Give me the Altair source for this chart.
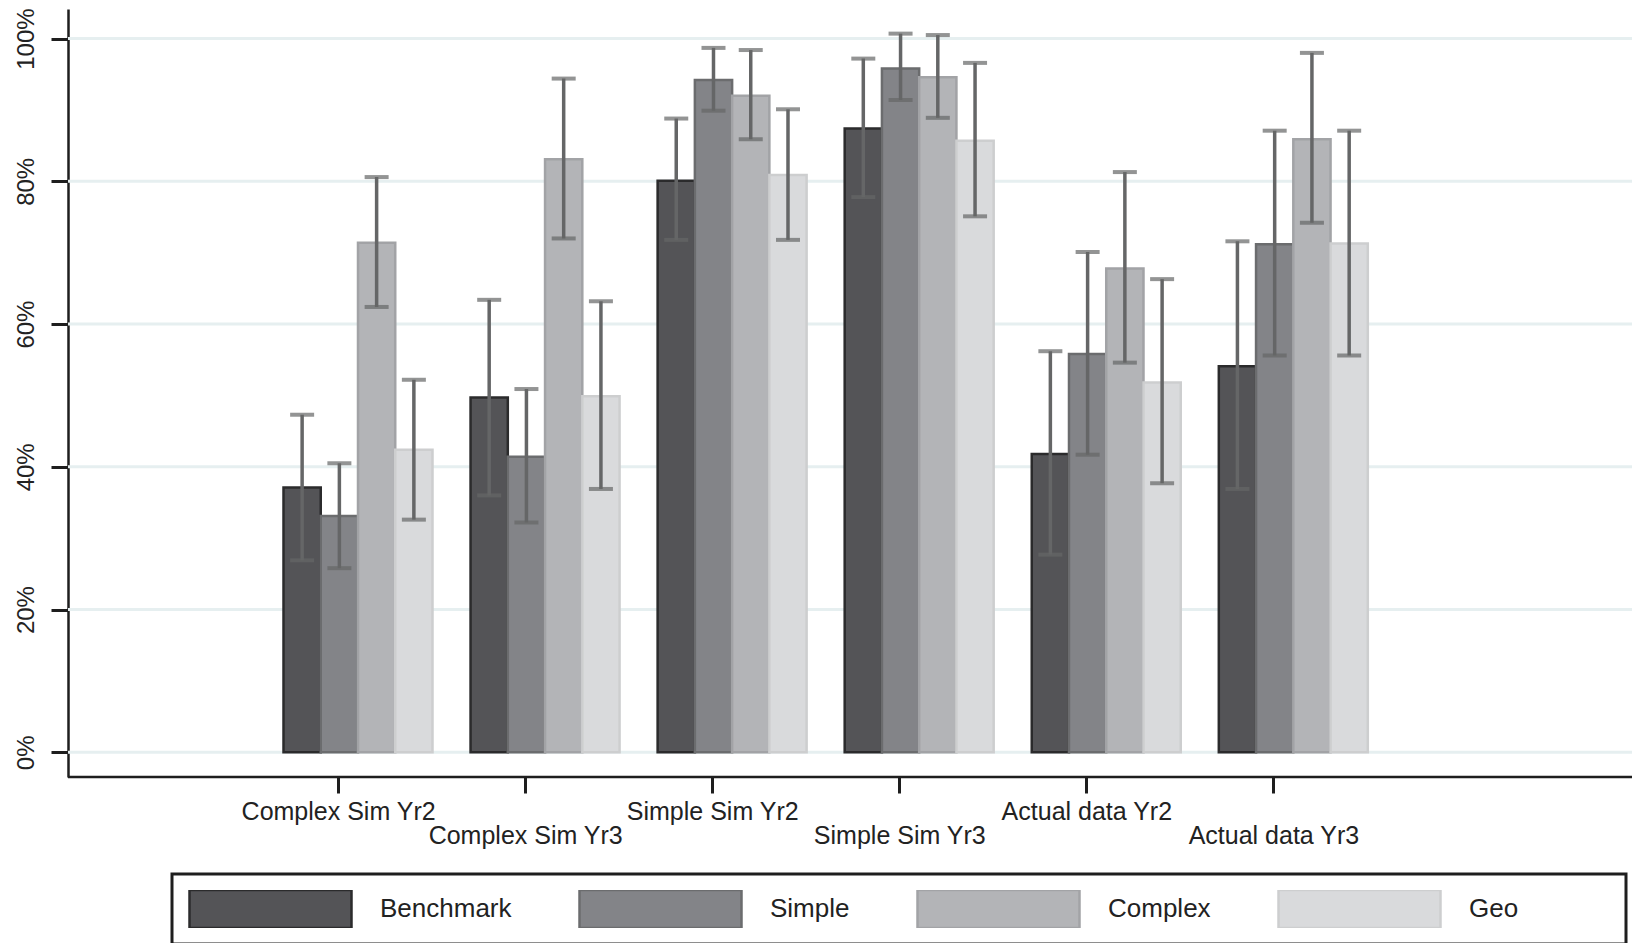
import altair as alt
import pandas as pd

categories = ["Complex Sim Yr2", "Complex Sim Yr3", "Simple Sim Yr2",
              "Simple Sim Yr3", "Actual data Yr2", "Actual data Yr3"]
series = ["Benchmark", "Simple", "Complex", "Geo"]

benchmark = [37.1, 49.7, 80.1, 87.4, 41.8, 54.1]
benchmark_lo = [26.9, 36.0, 71.8, 77.8, 27.7, 36.9]
benchmark_hi = [47.3, 63.4, 88.8, 97.2, 56.2, 71.6]

simple = [33.1, 41.4, 94.2, 95.8, 55.8, 71.2]
simple_lo = [25.8, 32.2, 89.9, 91.4, 41.7, 55.6]
simple_hi = [40.5, 50.9, 98.7, 100.7, 70.1, 87.1]

complex_ = [71.4, 83.1, 92.0, 94.6, 67.8, 85.9]
complex_lo = [62.4, 72.0, 85.9, 88.9, 54.6, 74.2]
complex_hi = [80.6, 94.4, 98.4, 100.5, 81.3, 98.0]

geo = [42.4, 49.9, 80.9, 85.7, 51.8, 71.3]
geo_lo = [32.6, 36.9, 71.8, 75.1, 37.7, 55.6]
geo_hi = [52.2, 63.2, 90.1, 96.6, 66.3, 87.1]

y_ticks = [0, 20, 40, 60, 80, 100]

fills = ["#545457", "#838488", "#b3b4b7", "#d9dadc"]
strokes = ["#2b2b2c", "#6b6c6e", "#a2a3a6", "#cdcecf"]
err_color = "#656667"
grid_color = "#e6eff0"
ink = "#1e1e1e"
FONT = "Liberation Sans"

W, H = 1564, 768

table = {
    "Benchmark": (benchmark, benchmark_lo, benchmark_hi),
    "Simple": (simple, simple_lo, simple_hi),
    "Complex": (complex_, complex_lo, complex_hi),
    "Geo": (geo, geo_lo, geo_hi),
}
rows = []
for s in series:
    vals, los, his = table[s]
    for c, v, lo, hi in zip(categories, vals, los, his):
        rows.append({"category": c, "series": s, "value": v, "lo": lo, "hi": hi})
df = pd.DataFrame(rows)
grid_df = pd.DataFrame({"tick": y_ticks})
frame_df = pd.DataFrame({"k": [0]})

xscale = alt.Scale(range=[215.5, 1299.8], paddingInner=0.2035, paddingOuter=0)
xaxis = alt.Axis(
    title=None, grid=False, domain=False, labelAngle=0, bandPosition=0.37,
    tickSize=16, tickWidth=3, tickColor=ink,
    labelFont=FONT, labelFontSize=25, labelColor="#222222",
    labelPadding=6, labelBaseline="top", labelLineHeight=24,
    labelOffset=-19.4,
    labelOverlap=False, labelLimit=500,
    labelExpr="indexof(datum.label, 'Yr3') >= 0 ? ['', datum.label] : datum.label",
)
yscale = alt.Scale(domain=[-3.46, 104.15], nice=False, zero=False)
yaxis = alt.Axis(
    title=None, values=y_ticks, grid=False,
    tickSize=17, tickWidth=3, tickColor=ink,
    domainColor=ink, domainWidth=2.5,
    labelFont=FONT, labelFontSize=24, labelColor="#222222",
    labelAngle=270, labelAlign="center", labelBaseline="alphabetic",
    labelPadding=18, labelExpr="datum.value + '%'",
)

leg = alt.Legend(
    orient="none", legendX=104, legendY=865, direction="horizontal",
    symbolType="M-1,-0.2346H1V0.2346H-1Z", symbolSize=26244,
    symbolStrokeWidth=2.5, clipHeight=38,
    labelOffset=27, columnPadding=66,
    labelFont=FONT, labelFontSize=26, labelColor="#222222",
    title=" ", titleOrient="right", titlePadding=92, titleFontSize=10,
)

grid = alt.Chart(grid_df).mark_rule(color=grid_color, strokeWidth=3).encode(
    y=alt.Y("tick:Q", scale=yscale, axis=yaxis),
    x=alt.value(0), x2=alt.value(W),
)

base = alt.Chart(df).encode(
    x=alt.X("category:N", sort=categories, scale=xscale, axis=xaxis),
    xOffset=alt.XOffset("series:N", sort=series,
                        scale=alt.Scale(paddingInner=0, paddingOuter=0)),
)

bars = base.mark_bar(strokeWidth=2.5).encode(
    y=alt.Y("value:Q", scale=yscale, axis=yaxis, stack=None),
    y2=alt.datum(0),
    fill=alt.Fill("series:N", sort=series,
                  scale=alt.Scale(domain=series, range=fills), legend=leg),
    stroke=alt.Stroke("series:N", sort=series,
                      scale=alt.Scale(domain=series, range=strokes), legend=leg),
)

rules = base.mark_rule(color=err_color, strokeWidth=3.5).encode(
    y=alt.Y("lo:Q", scale=yscale, axis=yaxis),
    y2="hi:Q",
)

caps = base.transform_fold(["lo", "hi"], as_=["end", "endval"]).mark_tick(
    color=err_color, thickness=4, size=24
).encode(
    y=alt.Y("endval:Q", scale=yscale, axis=yaxis),
)

baseline = alt.Chart(frame_df).mark_rule(color=ink, strokeWidth=2.5).encode(
    y=alt.value(H), x=alt.value(0), x2=alt.value(W),
)

chart = alt.layer(grid, bars, rules, caps, baseline).properties(
    width=W, height=H,
    autosize=alt.AutoSizeParams(type="none"),
    padding={"left": 60, "top": 1, "right": 0, "bottom": 166},
    background="white",
).configure_view(stroke="transparent").configure_legend(
    strokeColor=ink, strokeWidth=3, padding=16,
)

chart.save("out.html", embed_options={"renderer": "svg", "actions": False})
